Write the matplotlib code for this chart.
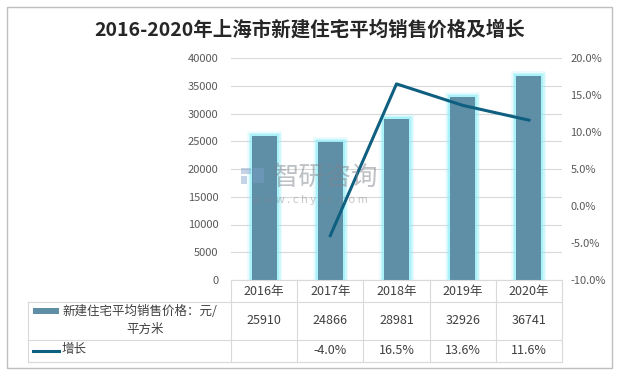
import matplotlib
matplotlib.use("Agg")
import matplotlib.pyplot as plt
import numpy as np
from matplotlib.lines import Line2D
from matplotlib.patches import Rectangle
from matplotlib.transforms import blended_transform_factory

plt.rcParams["font.family"] = ["Noto Sans CJK SC", "DejaVu Sans"]

years = ["2016年", "2017年", "2018年", "2019年", "2020年"]
prices = [25910, 24866, 28981, 32926, 36741]
growth = [np.nan, -4.0, 16.5, 13.6, 11.6]
price_labels = ["25910", "24866", "28981", "32926", "36741"]
growth_labels = ["", "-4.0%", "16.5%", "13.6%", "11.6%"]

W, H = 620, 375
BAR = "#5e8fa6"
LINE = "#0f5f80"
GRID = "#d9d9d9"
TXT = "#404040"
TICK = "#595959"


def fy(y):
    return 1 - y / H


fig = plt.figure(figsize=(W / 100, H / 100), dpi=100)
fig.patch.set_facecolor("white")
fig.add_artist(Rectangle((7 / W, fy(368)), 605 / W, 361 / H, transform=fig.transFigure,
                         fill=False, edgecolor="#bfbfbf", linewidth=1))

ax = fig.add_axes([231 / W, fy(280), 331 / W, 222 / H])
x = np.arange(len(years))

# soft cyan glow around the bars (wide translucent edges)
for lw, a in [(7, 0.18), (5, 0.3), (3, 0.55)]:
    ax.bar(x, prices, width=0.38, color="none", edgecolor="#8eeefa", linewidth=lw,
           alpha=a, zorder=2)
ax.bar(x, prices, width=0.38, color=BAR, zorder=3, linewidth=0)

ax.set_xlim(-0.5, len(years) - 0.5)
ax.set_ylim(0, 40000)
ax.set_yticks(np.arange(0, 40001, 5000))
ax.yaxis.grid(True, color=GRID, linewidth=0.8, zorder=0)
ax.set_axisbelow(True)
ax.set_xticks([])
for s in ax.spines.values():
    s.set_visible(False)
ax.tick_params(axis="y", length=0, labelsize=8, labelcolor=TICK, pad=9)

ax2 = ax.twinx()
ax2.plot(x, growth, color=LINE, linewidth=2.2, zorder=5)
ax2.set_ylim(-10, 20)
ax2.set_yticks(np.arange(-10, 20.1, 5))
ax2.set_yticklabels([f"{v:.1f}%" for v in np.arange(-10, 20.1, 5)])
for s in ax2.spines.values():
    s.set_visible(False)
ax2.tick_params(axis="y", length=0, labelsize=8, labelcolor=TICK, pad=6)

fig.text(0.5, fy(30), "2016-2020年上海市新建住宅平均销售价格及增长", ha="center", va="center",
         fontsize=14, fontweight="bold", color="#262626")

# watermark
ftr = fig.transFigure
for (px, py, pw, ph) in [(241, 168, 10, 6), (241, 176, 6, 8), (253, 168, 11, 15)]:
    fig.add_artist(Rectangle((px / W, fy(py + ph)), pw / W, ph / H, transform=ftr,
                             color="#7f9fc8", alpha=0.45, linewidth=0, zorder=10))
fig.text(326 / W, fy(177), "智研咨询", ha="center", va="center", fontsize=19,
         color="#7d838c", alpha=0.5, zorder=10)
fig.text(310 / W, fy(200), "w w w . c h y x x . c o m", ha="center", va="center", fontsize=8,
         color="#7d838c", alpha=0.45, zorder=10)

# data table under the axes
tr = blended_transform_factory(ax.transData, fig.transFigure)
rows = [280, 302, 340, 362]
left_px = 28
for i in range(len(years) + 1):
    fig.add_artist(Line2D([i - 0.5, i - 0.5], [fy(280), fy(362)], transform=tr,
                          color=GRID, linewidth=0.8))
fig.add_artist(Line2D([left_px / W, left_px / W], [fy(302), fy(362)], transform=ftr,
                      color=GRID, linewidth=0.8))
fig.add_artist(Line2D([-0.5, len(years) - 0.5], [fy(280), fy(280)], transform=tr,
                      color=GRID, linewidth=0.8))
for r in rows[1:]:
    fig.add_artist(Line2D([left_px / W, 562 / W], [fy(r), fy(r)], transform=ftr,
                          color=GRID, linewidth=0.8))

for i in range(len(years)):
    fig.text(i, fy(291), years[i], transform=tr, ha="center", va="center", fontsize=9, color=TXT)
    fig.text(i, fy(321), price_labels[i], transform=tr, ha="center", va="center", fontsize=9, color=TXT)
    fig.text(i, fy(351), growth_labels[i], transform=tr, ha="center", va="center", fontsize=9, color=TXT)

fig.add_artist(Rectangle((33 / W, fy(314)), 26 / W, 6 / H, transform=ftr, color=BAR, linewidth=0))
fig.text(62 / W, fy(311), "新建住宅平均销售价格：元/", ha="left", va="center", fontsize=9, color=TXT)
fig.text(145 / W, fy(329), "平方米", ha="center", va="center", fontsize=9, color=TXT)
fig.add_artist(Line2D([33 / W, 59 / W], [fy(351), fy(351)], transform=ftr, color=LINE, linewidth=2.2))
fig.text(62 / W, fy(350), "增长", ha="left", va="center", fontsize=9, color=TXT)

fig.savefig("out.png", dpi=100)
